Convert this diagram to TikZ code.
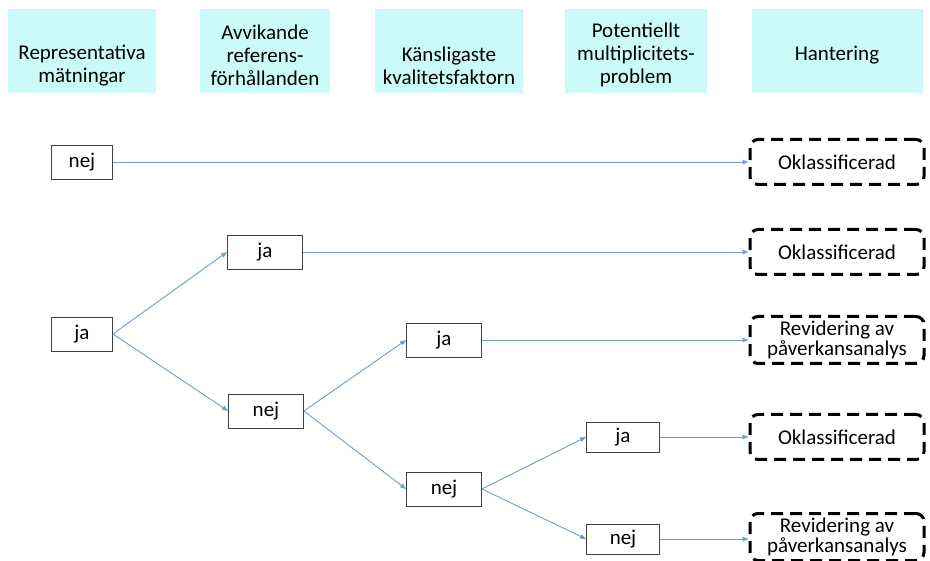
\documentclass[tikz,border=0pt]{standalone}
\usepackage{fontspec}
\setmainfont{Carlito}
\usepackage{tikz}
\usetikzlibrary{arrows.meta}
\definecolor{HeadCyan}{RGB}{204,250,250}
\definecolor{LinkBlue}{RGB}{112,157,206}
\definecolor{BoxGray}{RGB}{64,64,64}

\begin{document}
\begin{tikzpicture}[x=1pt, y=-1pt,
	font=\fontsize{21}{23}\selectfont,
	head/.style={fill=HeadCyan, minimum height=84pt, inner sep=0pt},
	headtext/.style={align=center, inner sep=0pt},
	choice/.style={draw=BoxGray, fill=white, line width=0.8pt, minimum width=75pt, minimum height=34pt, inner sep=0pt},
	result/.style={draw=black, line width=3pt, dash pattern=on 12pt off 7pt, rounded corners=8pt, minimum width=174pt, minimum height=45pt, align=center, inner sep=0pt},
	link/.style={LinkBlue, line width=0.9pt, -{Triangle[length=6pt, width=4.5pt]}}]
	\useasboundingbox (0,0) rectangle (930,561);
	% column headings
	\node[head, minimum width=148pt] (h1) at (82,51) {};
	\node[head, minimum width=130pt] (h2) at (265,51) {};
	\node[head, minimum width=148pt] (h3) at (449,51) {};
	\node[head, minimum width=142pt] (h4) at (636,51) {};
	\node[head, minimum width=171pt] (h5) at (837,51) {};
	\node[headtext] (t1) at (82,66) {Representativa\\mätningar};
	\node[headtext] (t2) at (265,55) {Avvikande\\referens-\\förhållanden};
	\node[headtext] (t3) at (449,66) {Känsligaste\\kvalitetsfaktorn};
	\node[headtext] (t4) at (636,55) {Potentiellt\\multiplicitets-\\problem};
	\node[headtext] (t5) at (837,55) {Hantering};
	% decisions
	\node[choice, minimum width=61pt] (nej1) at (82,162) {nej};
	\node[choice, minimum width=61pt] (ja1) at (82,334) {ja};
	\node[choice] (ja2) at (265,252) {ja};
	\node[choice] (nej2) at (266,411) {nej};
	\node[choice] (ja3) at (444,340) {ja};
	\node[choice] (nej3) at (444,489) {nej};
	\node[choice, minimum width=73pt, minimum height=30pt] (ja4) at (623,437) {ja};
	\node[choice, minimum width=73pt, minimum height=30pt] (nej4) at (623,539) {nej};
	% outcomes
	\node[result] (r1) at (837,162) {Oklassificerad};
	\node[result] (r2) at (837,252) {Oklassificerad};
	\node[result, minimum height=47pt, font=\fontsize{21}{20.5}\selectfont] (r3) at (837,340) {Revidering av\\påverkansanalys};
	\node[result] (r4) at (837,437) {Oklassificerad};
	\node[result, minimum height=47pt, font=\fontsize{21}{20.5}\selectfont] (r5) at (837,537) {Revidering av\\påverkansanalys};
	% connectors
	\draw[link] (nej1) -- (r1);
	\draw[link] (ja1.east) -- (ja2.west);
	\draw[link] (ja1.east) -- (nej2.west);
	\draw[link] (ja2) -- (r2);
	\draw[link] (nej2.east) -- (ja3.west);
	\draw[link] (nej2.east) -- (nej3.west);
	\draw[link] (ja3) -- (r3);
	\draw[link] (nej3.east) -- (ja4.west);
	\draw[link] (nej3.east) -- (nej4.west);
	\draw[link] (ja4) -- (r4);
	\draw[link] (nej4.east) -- (nej4.east -| r5.west);
\end{tikzpicture}
\end{document}
